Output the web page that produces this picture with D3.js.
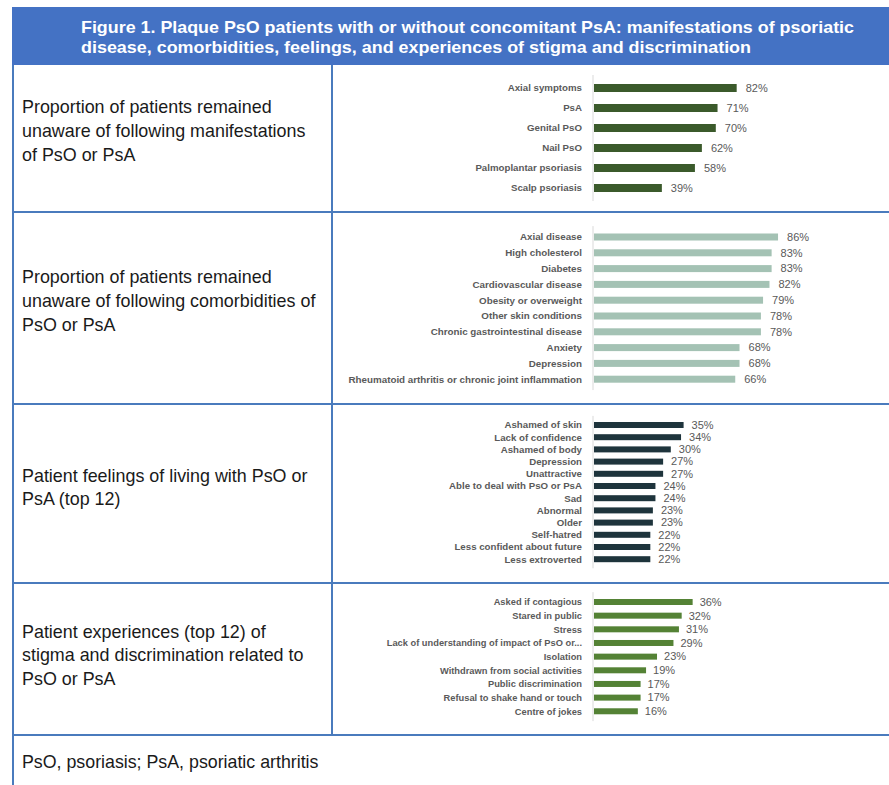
<!DOCTYPE html>
<html>
<head>
<meta charset="utf-8">
<script src="https://cdn.jsdelivr.net/npm/d3@7"></script>
<style>
  html, body { margin: 0; padding: 0; background: #ffffff; }
  svg { display: block; font-family: "Liberation Sans", Arial, sans-serif; }
</style>
</head>
<body>
<svg id="fig" width="889" height="785"></svg>
<script>
// ---- Data ----
const titleLines = [
  "Figure 1. Plaque PsO patients with or without concomitant PsA: manifestations of psoriatic",
  "disease, comorbidities, feelings, and experiences of stigma and discrimination"
];

const manifestLabels = ["Axial symptoms", "PsA", "Genital PsO", "Nail PsO", "Palmoplantar psoriasis", "Scalp psoriasis"];
const manifestValues = [82, 71, 70, 62, 58, 39];

const comorbLabels = ["Axial disease", "High cholesterol", "Diabetes", "Cardiovascular disease", "Obesity or overweight",
  "Other skin conditions", "Chronic gastrointestinal disease", "Anxiety", "Depression",
  "Rheumatoid arthritis or chronic joint inflammation"];
const comorbValues = [86, 83, 83, 82, 79, 78, 78, 68, 68, 66];

const feelingLabels = ["Ashamed of skin", "Lack of confidence", "Ashamed of body", "Depression", "Unattractive",
  "Able to deal with PsO or PsA", "Sad", "Abnormal", "Older", "Self-hatred",
  "Less confident about future", "Less extroverted"];
const feelingValues = [35, 34, 30, 27, 27, 24, 24, 23, 23, 22, 22, 22];

const stigmaLabels = ["Asked if contagious", "Stared in public", "Stress", "Lack of understanding of impact of PsO or...",
  "Isolation", "Withdrawn from social activities", "Public discrimination", "Refusal to shake hand or touch",
  "Centre of jokes"];
const stigmaValues = [36, 32, 31, 29, 23, 19, 17, 17, 16];

const rowTexts = [
  ["Proportion of patients remained", "unaware of following manifestations", "of PsO or PsA"],
  ["Proportion of patients remained", "unaware of following comorbidities of", "PsO or PsA"],
  ["Patient feelings of living with PsO or", "PsA (top 12)"],
  ["Patient experiences (top 12) of", "stigma and discrimination related to", "PsO or PsA"]
];
const footnote = "PsO, psoriasis; PsA, psoriatic arthritis";

// ---- Layout ----
const svg = d3.select("#fig");
const blue = "#4472c4";
const rule = "#4a7bbd";
const tableLeft = 13, divX = 332, tableRight = 889;
const headerTop = 7, headerBottom = 65;
const rowEdges = [65, 212, 404, 583, 735];

// header band
svg.append("rect").attr("x", tableLeft - 1).attr("y", headerTop)
  .attr("width", tableRight - tableLeft + 1).attr("height", headerBottom - headerTop).attr("fill", blue);
svg.selectAll("text.title").data(titleLines).join("text")
  .attr("class", "title")
  .attr("x", 81).attr("y", (d, i) => 33 + i * 20)
  .attr("fill", "#ffffff").attr("font-weight", "bold").attr("font-size", 16.5)
  .attr("textLength", (d, i) => i === 0 ? 773 : 670)
  .attr("lengthAdjust", "spacingAndGlyphs")
  .text(d => d);

// table rules
const g = svg.append("g").attr("stroke", rule).attr("stroke-width", 2);
g.append("line").attr("x1", tableLeft).attr("x2", tableLeft).attr("y1", headerBottom).attr("y2", 785);
g.append("line").attr("x1", divX).attr("x2", divX).attr("y1", headerBottom).attr("y2", rowEdges[4]);
rowEdges.slice(1).forEach(y => {
  g.append("line").attr("x1", tableLeft).attr("x2", tableRight).attr("y1", y).attr("y2", y);
});

// row descriptions
const descY = [[107, 131, 155], [277, 301, 325], [476, 499], [632, 655, 679]];
rowTexts.forEach((lines, r) => {
  svg.append("g").selectAll("text").data(lines).join("text")
    .attr("x", 22).attr("y", (d, i) => descY[r][i] + 6)
    .attr("font-size", 17.9).attr("fill", "#1a1a1a")
    .text(d => d);
});
svg.append("text").attr("x", 22).attr("y", 768).attr("font-size", 17.8).attr("fill", "#1a1a1a").text(footnote);

// ---- Bar panels ----
const axisX = 593;
function panel(labels, values, opt) {
  const n = labels.length;
  const y0 = opt.first - opt.step / 2;
  const y = d3.scaleBand().domain(labels).range([y0, y0 + n * opt.step])
    .paddingInner(1 - opt.bar / opt.step).paddingOuter((1 - opt.bar / opt.step) / 2);
  const x = d3.scaleLinear().domain([0, 100]).range([axisX, axisX + opt.full]);
  const p = svg.append("g");
  const data = labels.map((l, i) => ({ label: l, value: values[i] }));

  p.append("line").attr("x1", axisX).attr("x2", axisX)
    .attr("y1", y0 - 3).attr("y2", y0 + n * opt.step + 3)
    .attr("stroke", "#d9d9d9").attr("stroke-width", 1);

  p.selectAll("rect").data(data).join("rect")
    .attr("x", x(0) + 1).attr("y", d => y(d.label))
    .attr("width", d => x(d.value) - x(0)).attr("height", y.bandwidth())
    .attr("fill", opt.color);

  p.selectAll("text.cat").data(data).join("text")
    .attr("class", "cat")
    .attr("x", axisX - 11).attr("y", d => y(d.label) + y.bandwidth() / 2)
    .attr("dy", "0.35em").attr("text-anchor", "end")
    .attr("font-size", opt.labelSize).attr("font-weight", "bold").attr("fill", "#5a5a5a")
    .text(d => d.label);

  p.selectAll("text.val").data(data).join("text")
    .attr("class", "val")
    .attr("x", d => x(d.value) + opt.gap).attr("y", d => y(d.label) + y.bandwidth() / 2)
    .attr("dy", "0.35em")
    .attr("font-size", 11).attr("fill", "#595959")
    .text(d => d.value + "%");
}

panel(manifestLabels, manifestValues, { first: 88, step: 20, bar: 8, full: 174, color: "#3b5a2b", labelSize: 9.7, gap: 10 });
panel(comorbLabels, comorbValues, { first: 237, step: 15.8, bar: 7, full: 214, color: "#a4c2b4", labelSize: 9.8, gap: 10 });
panel(feelingLabels, feelingValues, { first: 425, step: 12.2, bar: 6, full: 256, color: "#1e343c", labelSize: 9.7, gap: 9 });
panel(stigmaLabels, stigmaValues, { first: 602, step: 13.66, bar: 6, full: 274, color: "#548235", labelSize: 9.3, gap: 8 });
</script>
</body>
</html>
